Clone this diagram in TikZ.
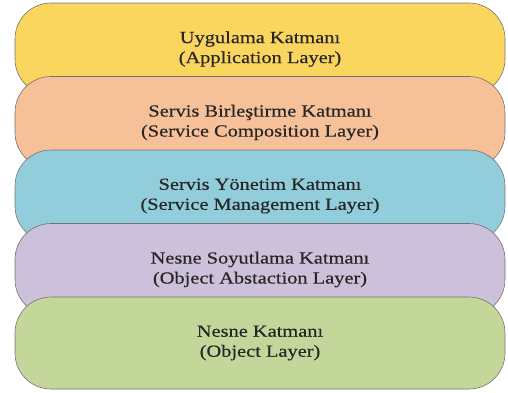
\documentclass[tikz,border=0pt]{standalone}
\usepackage{fontspec}
\setmainfont{Liberation Serif}
\usepackage{tikz}
\usetikzlibrary{positioning}

\definecolor{uygYellow}{RGB}{250,214,95}
\definecolor{srvOrange}{RGB}{246,192,152}
\definecolor{ynmBlue}{RGB}{146,205,220}
\definecolor{nsnPurple}{RGB}{204,192,218}
\definecolor{objGreen}{RGB}{196,215,155}

\begin{document}
\begin{tikzpicture}[x=1pt, y=1pt, node distance={73.5pt},
  layer/.style = {draw=black!55, line width=0.6pt, rectangle, rounded corners=36pt,
    minimum width=490pt, minimum height=92pt, align=center, text=black!85,
    font=\fontsize{17}{20}\selectfont\addfontfeature{FakeStretch=1.2,FakeBold=0.4}}]

\useasboundingbox (0,0) rectangle (508,-392);

\node[layer, fill=uygYellow] (1) at (260,-49) {Uygulama Katmanı\\(Application Layer)};
\node[layer, fill=srvOrange] (2) [below of=1] {Servis Birleştirme Katmanı\\(Service Composition Layer)};
\node[layer, fill=ynmBlue] (3) [below of=2] {Servis Yönetim Katmanı\\(Service Management Layer)};
\node[layer, fill=nsnPurple] (4) [below of=3] {Nesne Soyutlama Katmanı\\(Object Abstaction Layer)};
\node[layer, fill=objGreen] (5) [below of=4] {Nesne Katmanı\\(Object Layer)};

\end{tikzpicture}
\end{document}
